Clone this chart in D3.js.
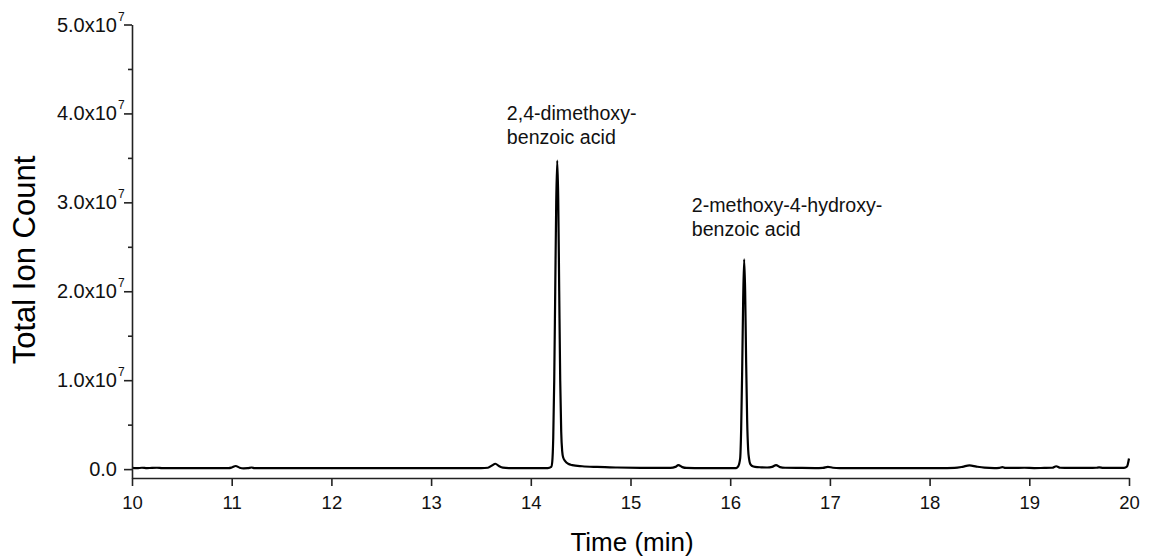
<!DOCTYPE html>
<html>
<head>
<meta charset="utf-8">
<script src="https://cdn.jsdelivr.net/npm/d3@7/dist/d3.min.js"></script>
<style>
  html, body { margin: 0; padding: 0; background: #fff; }
  svg { display: block; font-family: "Liberation Sans", Arial, sans-serif; }
</style>
</head>
<body>
<svg id="chart" width="1150" height="557"></svg>
<script>
// ---- data ----
const times = [
  10.00, 10.05, 10.10, 10.15, 10.20, 10.25, 10.30, 10.40, 10.50, 10.60, 10.70, 10.80, 10.90, 10.97,
  11.00, 11.04, 11.08, 11.12, 11.16, 11.20, 11.23, 11.30, 11.50, 11.70, 11.90, 12.10, 12.30, 12.50,
  12.70, 12.90, 13.10, 13.30, 13.50, 13.57, 13.61, 13.645, 13.68, 13.72, 13.78, 13.90, 14.00, 14.10,
  14.17, 14.205, 14.215, 14.225, 14.235, 14.245, 14.255, 14.265, 14.275, 14.285, 14.295, 14.305,
  14.315, 14.325, 14.345, 14.375, 14.415, 14.515, 14.665, 14.865,
  15.10, 15.20, 15.30, 15.40, 15.45, 15.48, 15.52, 15.56, 15.70, 15.85, 15.95, 16.06,
  16.08, 16.10, 16.11, 16.12, 16.13, 16.14, 16.15, 16.16, 16.17, 16.18, 16.19, 16.20, 16.22,
  16.25, 16.31, 16.37, 16.42, 16.46, 16.50, 16.55, 16.70, 16.85, 16.93, 16.98, 17.03, 17.10,
  17.30, 17.50, 17.70, 17.90, 18.10, 18.25, 18.33, 18.40, 18.47, 18.55, 18.65, 18.70, 18.73,
  18.76, 18.85, 18.95, 19.05, 19.15, 19.23, 19.27, 19.31, 19.40, 19.50, 19.60, 19.67, 19.70,
  19.74, 19.85, 19.95, 19.98, 20.00
];
const counts = [
  1.3e5, 1.0e5, 1.5e5, 1.1e5, 1.4e5, 1.5e5, 1.1e5, 1.0e5, 1.0e5, 1.0e5, 1.1e5, 1.0e5, 1.0e5, 1.1e5,
  1.8e5, 3.5e5, 1.6e5, 0.9e5, 1.0e5, 1.8e5, 1.0e5, 1.0e5, 1.0e5, 1.0e5, 1.0e5, 1.0e5, 1.0e5, 1.0e5,
  1.0e5, 1.0e5, 1.0e5, 1.0e5, 1.1e5, 1.5e5, 4.0e5, 6.0e5, 3.5e5, 1.6e5, 1.1e5, 1.0e5, 1.0e5, 1.0e5,
  1.1e5, 2.5e5, 8.0e5, 3.5e6, 1.0e7, 2.0e7, 3.0e7, 3.47e7, 3.05e7, 2.0e7, 1.0e7, 4.2e6,
  2.0e6, 1.3e6, 9.0e5, 6.0e5, 4.5e5, 3.2e5, 2.4e5, 1.8e5,
  1.4e5, 1.3e5, 1.3e5, 1.4e5, 2.5e5, 4.5e5, 2.2e5, 1.3e5, 1.2e5, 1.2e5, 1.1e5, 1.2e5,
  3.0e5, 1.2e6, 4.5e6, 1.1e7, 1.9e7, 2.36e7, 2.0e7, 1.2e7, 5.5e6, 2.2e6, 1.1e6, 6.0e5, 3.5e5,
  2.5e5, 2.0e5, 1.8e5, 2.5e5, 4.5e5, 2.2e5, 1.5e5, 1.3e5, 1.2e5, 1.4e5, 2.6e5, 1.5e5, 1.2e5,
  1.1e5, 1.1e5, 1.1e5, 1.1e5, 1.1e5, 1.4e5, 2.6e5, 4.2e5, 2.8e5, 1.6e5, 1.2e5, 1.4e5, 2.3e5,
  1.3e5, 1.4e5, 1.5e5, 1.2e5, 1.3e5, 1.5e5, 3.2e5, 1.5e5, 1.3e5, 1.3e5, 1.3e5, 1.5e5, 2.0e5,
  1.4e5, 1.3e5, 1.4e5, 3.0e5, 1.2e6
];
const xTicks = [10, 11, 12, 13, 14, 15, 16, 17, 18, 19, 20];
const yTicks = [0, 1e7, 2e7, 3e7, 4e7, 5e7];
const yTickMant = ["0.0", "1.0", "2.0", "3.0", "4.0", "5.0"];
const yTickExp = ["", "7", "7", "7", "7", "7"];
const yMinorTicks = [5e6, 1.5e7, 2.5e7, 3.5e7, 4.5e7];
const labelLines = [["2,4-dimethoxy-", "benzoic acid"], ["2-methoxy-4-hydroxy-", "benzoic acid"]];
const labelT = [13.76, 15.615];
const labelV = [3.926e7, 2.89e7];

// ---- layout ----
const svg = d3.select("#chart");
const x = d3.scaleLinear().domain([10, 20]).range([132, 1129]);
const y = d3.scaleLinear().domain([-1e6, 5e7]).range([478, 24.5]);
const axisColor = "#222";

// trace
const pts = times.map((t, i) => [t, counts[i]]);
const line = d3.line().x(d => x(d[0])).y(d => y(d[1])).curve(d3.curveMonotoneX);
svg.append("path").datum(pts).attr("d", line)
  .attr("fill", "none").attr("stroke", "#000").attr("stroke-width", 2.2)
  .attr("stroke-linejoin", "round");

// x axis
const xAxis = d3.axisBottom(x).tickValues(xTicks).tickFormat(d3.format("d")).tickSize(8).tickSizeOuter(0);
const gx = svg.append("g").attr("transform", `translate(0,${y(-1e6)})`).call(xAxis);
gx.select(".domain").attr("stroke", axisColor).attr("stroke-width", 1.6);
gx.selectAll(".tick line").attr("stroke", axisColor).attr("stroke-width", 1.6);
gx.selectAll(".tick text").attr("font-size", 18.5).attr("fill", "#111")
  .attr("font-family", "Liberation Sans, Arial, sans-serif").attr("y", 18).attr("dy", "0.71em");

// y axis
const yAxis = d3.axisLeft(y).tickValues(yTicks).tickFormat(() => "").tickSize(8).tickSizeOuter(0);
const gy = svg.append("g").attr("transform", `translate(${x(10)},0)`).call(yAxis);
gy.select(".domain").attr("stroke", axisColor).attr("stroke-width", 1.6);
gy.selectAll(".tick line").attr("stroke", axisColor).attr("stroke-width", 1.6);
const yMinor = d3.axisLeft(y).tickValues(yMinorTicks).tickFormat(() => "").tickSize(4).tickSizeOuter(0);
const gym = svg.append("g").attr("transform", `translate(${x(10)},0)`).call(yMinor);
gym.select(".domain").remove();
gym.selectAll(".tick line").attr("stroke", axisColor).attr("stroke-width", 1.6);

// y tick labels with superscript
yTicks.forEach((v, i) => {
  const main = yTickExp[i] ? yTickMant[i] + "x10" : yTickMant[i];
  const endX = yTickExp[i] ? x(10) - 15 : x(10) - 15;
  svg.append("text").attr("x", endX).attr("y", y(v) + 7)
    .attr("text-anchor", "end").attr("font-size", 20).attr("fill", "#111").text(main);
  if (yTickExp[i]) {
    svg.append("text").attr("x", endX + 1).attr("y", y(v) - 4)
      .attr("font-size", 12).attr("fill", "#111").text(yTickExp[i]);
  }
});

// axis titles
svg.append("text").attr("x", 632).attr("y", 551).attr("text-anchor", "middle")
  .attr("font-size", 26).attr("fill", "#000").text("Time (min)");
svg.append("text").attr("transform", "translate(35,260) rotate(-90)").attr("text-anchor", "middle")
  .attr("font-size", 31).attr("fill", "#000").text("Total Ion Count");

// peak annotations
labelLines.forEach((lines, i) => {
  const t = svg.append("text").attr("x", x(labelT[i])).attr("y", y(labelV[i]))
    .attr("font-size", 19.6).attr("fill", "#111");
  lines.forEach((s, j) => {
    t.append("tspan").attr("x", x(labelT[i])).attr("dy", j === 0 ? 0 : 23.5).text(s);
  });
});
</script>
</body>
</html>
